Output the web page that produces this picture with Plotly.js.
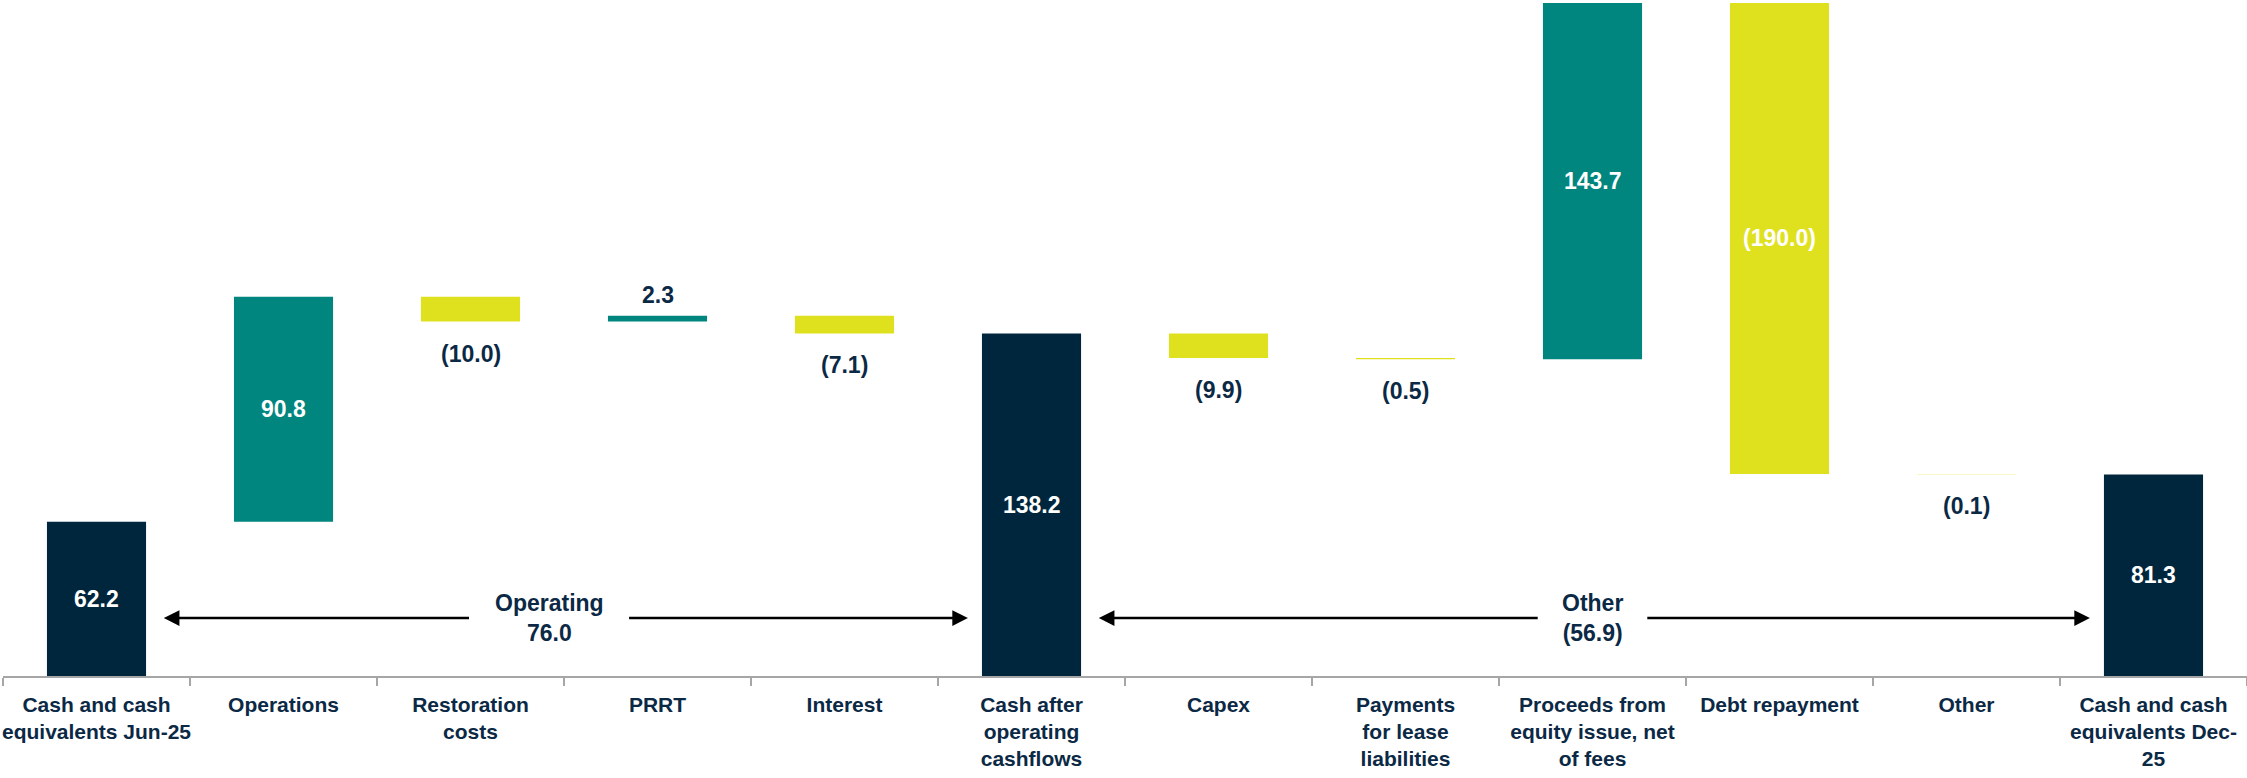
<!DOCTYPE html>
<html><head><meta charset="utf-8">
<script src="https://cdn.plot.ly/plotly-3.0.1.min.js"></script>
<style>html,body{margin:0;padding:0;background:#fff}#chart{width:2247px;height:778px}</style>
</head><body><div id="chart"></div>
<script>
// ---- data ----
const categories = [
  'Cash and cash<br>equivalents Jun-25', 'Operations', 'Restoration<br>costs', 'PRRT', 'Interest',
  'Cash after<br>operating<br>cashflows', 'Capex', 'Payments<br>for lease<br>liabilities',
  'Proceeds from<br>equity issue, net<br>of fees', 'Debt repayment', 'Other',
  'Cash and cash<br>equivalents Dec-<br>25'
];
const values = [62.2, 90.8, -10.0, 2.3, -7.1, 138.2, -9.9, -0.5, 143.7, -190.0, -0.1, 81.3];
const measures = ['absolute','relative','relative','relative','relative','absolute',
                  'relative','relative','relative','relative','relative','absolute'];
const valueLabels = ['62.2','90.8','(10.0)','2.3','(7.1)','138.2','(9.9)','(0.5)','143.7','(190.0)','(0.1)','81.3'];
const groupNames = ['Operating', 'Other'];
const groupStart = [0, 5];
const groupEnd = [5, 11];

// ---- style ----
const FONT = 'Liberation Sans, Arial, sans-serif';
const NAVY_TXT = '#0b2945';
const C_UP = '#00857f', C_DOWN = '#dfe11f', C_TOT = '#00263e';
const groupTextOffset = [-0.09, -0.01];   // text centre shift from arrow middle (category units)
const groupGapHalf = [0.42, 0.285];        // half-width of gap in arrow around text (category units)

// running totals
let run = 0; const lo = [], hi = [];
values.forEach((v, i) => {
  let a, b;
  if (measures[i] === 'absolute') { a = 0; b = v; run = v; }
  else { a = run; b = run + v; run = b; }
  lo.push(Math.min(a, b)); hi.push(Math.max(a, b));
});
const yMax = Math.max(...hi);

const fmt = v => v < 0 ? '(' + Math.abs(v).toFixed(1) + ')' : v.toFixed(1);

const annotations = [];
values.forEach((v, i) => {
  const big = (hi[i] - lo[i]) > 20;
  if (big) {
    annotations.push({x: i, y: (lo[i] + hi[i]) / 2, xref: 'x', yref: 'y', text: valueLabels[i],
      showarrow: false, font: {family: FONT, size: 23, color: '#ffffff', weight: 'bold'}});
  } else if (v >= 0) {
    annotations.push({x: i, y: hi[i], xref: 'x', yref: 'y', text: valueLabels[i], yanchor: 'bottom', yshift: 6,
      showarrow: false, font: {family: FONT, size: 23, color: NAVY_TXT, weight: 'bold'}});
  } else {
    annotations.push({x: i, y: lo[i], xref: 'x', yref: 'y', text: valueLabels[i], yanchor: 'top', yshift: -17,
      showarrow: false, font: {family: FONT, size: 23, color: NAVY_TXT, weight: 'bold'}});
  }
});

// group arrows
const arrowY = 0.086; // paper fraction
const arrowStyle = {text: '', showarrow: true, arrowhead: 2, arrowsize: 1.25, arrowwidth: 2.5,
  arrowcolor: '#000000', standoff: 0, xref: 'x', yref: 'paper', axref: 'x', ayref: 'paper'};
groupNames.forEach((g, k) => {
  const s = groupStart[k], e = groupEnd[k];
  const delta = values[e] - values[s];
  const x0 = s + 0.36, x1 = e - 0.34;
  const xc = (x0 + x1) / 2 + groupTextOffset[k];
  annotations.push(Object.assign({x: x0, y: arrowY, ax: xc - groupGapHalf[k], ay: arrowY}, arrowStyle));
  annotations.push(Object.assign({x: x1, y: arrowY, ax: xc + groupGapHalf[k], ay: arrowY}, arrowStyle));
  annotations.push({x: xc, y: arrowY, xref: 'x', yref: 'paper', text: g + '<br>' + fmt(delta),
    showarrow: false, yanchor: 'middle',
    font: {family: FONT, size: 23, color: NAVY_TXT, weight: 'bold'}});
});

const trace = {
  type: 'waterfall', x: categories, y: values, measure: measures,
  connector: {visible: false}, textinfo: 'none', hoverinfo: 'skip',
  increasing: {marker: {color: C_UP}},
  decreasing: {marker: {color: C_DOWN}},
  totals: {marker: {color: C_TOT}}
};

const layout = {
  width: 2247, height: 778,
  margin: {l: 3, r: 0, t: 3, b: 102},
  paper_bgcolor: '#ffffff', plot_bgcolor: '#ffffff',
  showlegend: false, waterfallgap: 0.47,
  xaxis: {type: 'category', tickson: 'boundaries', ticks: 'outside', ticklen: 8, tickwidth: 1.5,
    tickcolor: '#a6a6a6', showline: true, linecolor: '#a6a6a6', linewidth: 1.5, showgrid: false,
    tickangle: 0, automargin: false, ticklabelstandoff: 9,
    tickfont: {family: FONT, size: 21, color: NAVY_TXT, weight: 'bold'}, fixedrange: true},
  yaxis: {range: [0, yMax], visible: false, showgrid: false, zeroline: false, fixedrange: true},
  annotations: annotations
};

Plotly.newPlot('chart', [trace], layout, {displayModeBar: false, staticPlot: true});
</script></body></html>
